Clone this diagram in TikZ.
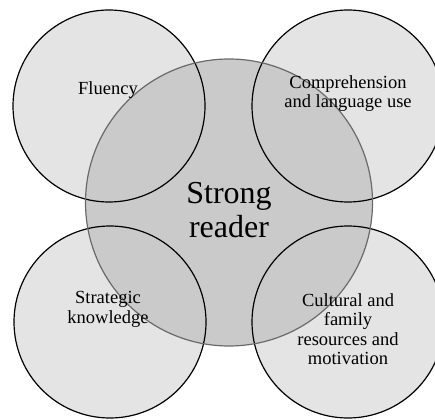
\documentclass[tikz,border=0pt]{standalone}
\usepackage{fontspec}
\setmainfont{Liberation Serif}
\begin{document}
\begin{tikzpicture}[x=1pt,y=-1pt,
  outerline/.style={draw=black,line width=1.2pt},
  label/.style={align=center,font=\fontsize{18.5}{19.5}\selectfont,inner sep=0pt},
  big/.style={align=center,font=\fontsize{32}{34}\selectfont,inner sep=0pt}]
\definecolor{outerfill}{HTML}{E4E4E4}
\definecolor{centerfill}{HTML}{CACACA}
\definecolor{centerline}{HTML}{6A6A6A}
\useasboundingbox (0,0) rectangle (435,419);
\begin{scope}
\clip (0,0) rectangle (435,419);
% fills
\fill[outerfill] (109,106) circle (96);
\fill[outerfill] (348,106) circle (96);
\fill[outerfill] (110,322) circle (96);
\fill[outerfill] (348,322) circle (96);
\fill[centerfill] (229,202.5) circle (143.5);
% borders
\draw[outerline] (109,106) circle (96);
\draw[outerline] (348,106) circle (96);
\draw[outerline] (110,322) circle (96);
\draw[outerline] (348,322) circle (96);
\draw[centerline,line width=1.2pt] (229,202.5) circle (143.5);
\end{scope}
% labels (base anchor = baseline of last line)
\node[label,anchor=base] (flu) at (108,95) {Fluency};
\node[label,anchor=base] (comp) at (348,108) {Comprehension\\and language use};
\node[label,anchor=base] (strat) at (108,323) {Strategic\\knowledge};
\node[label,anchor=base] (cult) at (348,364.5) {Cultural and\\family\\resources and\\motivation};
\node[big,anchor=base] (sr) at (229,237) {Strong\\reader};
\end{tikzpicture}
\end{document}
